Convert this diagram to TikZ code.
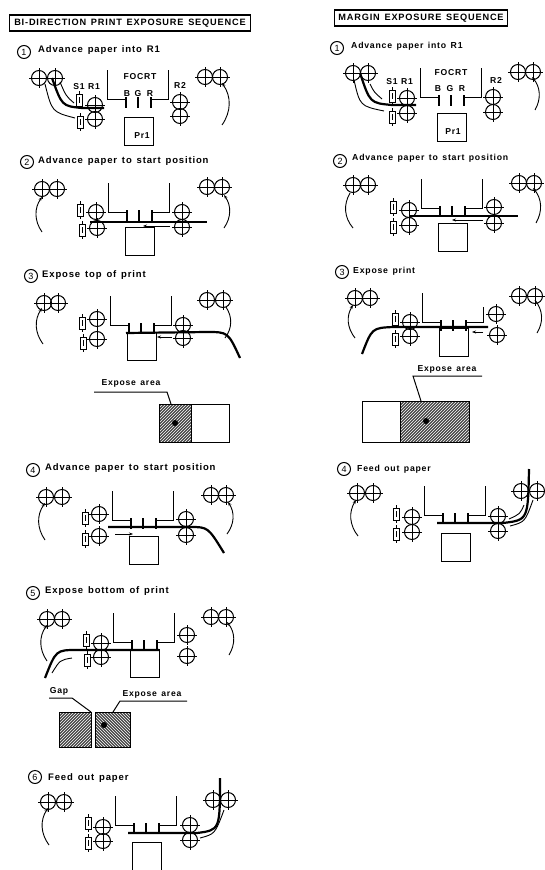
\documentclass[tikz,border=0pt]{standalone}
\usepackage{fontspec}
\setmainfont[LetterSpace=9,WordSpace=1.4]{Liberation Sans}
\usetikzlibrary{arrows.meta,patterns}
% print head: x, top of left wall, top of right wall, top of print box
\newcommand{\printunit}[4]{
  \draw[wall] (#1,#2)--(#1,#2+29)--(#1+18,#2+29);
  \draw[wall] (#1+61,#3)--(#1+61,#2+29)--(#1+44,#2+29);
  \draw[bar] (#1+19,#2+27)--(#1+19,#2+38);
  \draw[bar,line width=1.5pt] (#1+31,#2+27)--(#1+31,#2+38);
  \draw[bar] (#1+44,#2+27)--(#1+44,#2+38);
  \draw[wall] (#1+17,#4) rectangle (#1+46,#4+28);
}
\begin{document}
\begin{tikzpicture}[x=1pt,y=-1pt,
    wall/.style={line width=1pt},
    bar/.style={line width=2.8pt},
    paper/.style={line width=2.2pt},
    feed/.style={line width=0.9pt},
    tipfeed/.style={line width=0.9pt,-{Stealth[length=4pt]}},
    tipback/.style={line width=0.9pt,{Stealth[length=4pt]}-},
    nehatch/.style={draw,line width=1pt,preaction={fill=black!72},pattern=north east lines,pattern color=white},
    nwhatch/.style={draw,line width=1pt,preaction={fill=black!72},pattern=north west lines,pattern color=white},
    stepno/.style={draw,circle,line width=1pt,minimum size=13pt,inner sep=0pt,font=\fontsize{9}{9}\selectfont},
    steptxt/.style={anchor=west,inner sep=0pt,font=\fontsize{9.5}{10}\bfseries},
    steptxtr/.style={anchor=west,inner sep=0pt,font=\fontsize{8.7}{10}\bfseries},
    lbl/.style={inner sep=0pt,font=\fontsize{8.6}{9}\bfseries},
    heading/.style={draw,line width=1.1pt,inner sep=0pt,minimum height=16pt,font=\fontsize{9.2}{10}\bfseries},
    roller/.pic={
      \draw[wall] (0,0) circle[radius=7.5];
      \draw[line width=0.9pt] (-10,0)--(10,0) (0,-10)--(0,10);
    },
    sensor/.pic={
      \draw[wall,fill=white] (-3,-6) rectangle (3,6);
      \draw[line width=0.9pt] (0,-9)--(0,-6) (0,6)--(0,9) (0,-3)--(0,3);
    }
  ]
  \useasboundingbox (0,0) rectangle (544,870);
  % left column
  \node[heading,minimum width=241pt] (headL) at (130,23) {BI-DIRECTION PRINT EXPOSURE SEQUENCE};

  % L1
  \node[stepno] (nL1) at (24,52) {1};
  \node[steptxt] (tL1) at (38,50) {Advance paper into R1};
  \printunit{107}{70}{70}{117}
  \foreach \x/\y in {39/78,55/78,205/77,220/77,95/105,95/119,180/102,180/116} \pic at (\x,\y) {roller};
  \foreach \x/\y in {79/100,80/122} \pic at (\x,\y) {sensor};
  \draw[paper] (104,108)--(82,108) .. controls (62,106) .. (52,78);
  \draw[feed] (45,84) .. controls (52,112) .. (75,118);
  \draw[feed] (60,82) .. controls (66,96) .. (74,103);
  \draw[tipfeed] (222,125) to[bend right=35] (222,83);
  \node[lbl] (s1L) at (79,87) {S1};
  \node[lbl] (r1L) at (94,87) {R1};
  \node[lbl] (r2L) at (180,85) {R2};
  \node[lbl] (focL) at (140,77) {FOCRT};
  \node[lbl] (bL) at (127,94) {B};
  \node[lbl] (gL) at (138,94) {G};
  \node[lbl] (rL) at (150,94) {R};
  \node[lbl] (prL) at (142,136) {Pr1};

  % L2
  \node[stepno] (nL2) at (27,162) {2};
  \node[steptxt] (tL2) at (38,161) {Advance paper to start position};
  \printunit{108}{183}{183}{227}
  \foreach \x/\y in {42/189,57/189,207/187,222/187,96/212,97/228,182/212,182/227} \pic at (\x,\y) {roller};
  \foreach \x/\y in {80/210,82/230} \pic at (\x,\y) {sensor};
  \draw[paper] (90,222)--(207,222);
  \draw[tipfeed] (170,226)--(143,226);
  \draw[tipfeed] (42,232) to[bend left=35] (42,197);
  \draw[tipback] (224,195) to[bend left=35] (224,228);

  % L3
  \node[stepno] (nL3) at (31,276) {3};
  \node[steptxt] (tL3) at (42,275) {Expose top of print};
  \printunit{110}{296}{296}{332}
  \foreach \x/\y in {44/303,58/303,207/300,223/300,97/319,97/339,183/325,183/338} \pic at (\x,\y) {roller};
  \foreach \x/\y in {82/323,83/343} \pic at (\x,\y) {sensor};
  \draw[paper] (126,333)--(207,332) .. controls (228,332) .. (240,358);
  \draw[tipfeed] (172,337)--(157,337);
  \draw[tipfeed] (43,344) to[bend left=35] (42,308);
  \draw[feed] (226,307) to[bend left=35] (225,338);
  \node[lbl] (eaL3) at (131,383) {Expose area};
  \draw[wall] (94,392)--(167,392)--(171,404);
  \draw[nehatch] (159,404) rectangle (191,442);
  \fill (175,423) circle[radius=3];
  \draw[line width=1pt] (191,404) rectangle (229,442);

  % L4
  \node[stepno] (nL4) at (33,470) {4};
  \node[steptxt] (tL4) at (45,468) {Advance paper to start position};
  \printunit{112}{491}{491}{536}
  \foreach \x/\y in {46/497,62/497,211/495,226/495,99/514,99/536,186/519,186/535} \pic at (\x,\y) {roller};
  \foreach \x/\y in {85/518,85/539} \pic at (\x,\y) {sensor};
  \draw[paper] (108,527)--(190,527) .. controls (208,527) .. (224,553);
  \draw[tipfeed] (115,534)--(133,534);
  \draw[tipfeed] (45,540) to[bend left=35] (45,503);
  \draw[tipback] (228,502) to[bend left=35] (227,534);

  % L5
  \node[stepno] (nL5) at (33,593) {5};
  \node[steptxt] (tL5) at (45,591) {Expose bottom of print};
  \printunit{113}{613}{613}{649}
  \foreach \x/\y in {47/619,62/619,211/617,226/617,101/643,101/657,187/635,187/656} \pic at (\x,\y) {roller};
  \foreach \x/\y in {86/640,87/660} \pic at (\x,\y) {sensor};
  \draw[paper] (159,650)--(77,650) .. controls (56,650) .. (45,678);
  \draw[feed] (72,658) .. controls (60,660) .. (52,673);
  \draw[tipfeed] (47,661) to[bend left=35] (47,625);
  \draw[tipback] (227,622) to[bend left=35] (229,655);
  \node[lbl] (gapL5) at (59,691) {Gap};
  \node[lbl] (eaL5) at (152,694) {Expose area};
  \draw[wall] (49,698)--(72,698)--(91,712);
  \draw[wall] (187,701)--(120,701)--(113,712);
  \draw[nehatch] (59,712) rectangle (91,747);
  \draw[nwhatch] (95,712) rectangle (130,747);
  \fill (104,725) circle[radius=3];

  % L6
  \node[stepno] (nL6) at (35,777) {6};
  \node[steptxt] (tL6) at (48,778) {Feed out paper};
  \printunit{115}{796}{796}{842}
  \foreach \x/\y in {48/802,64/802,213/800,228/800,103/827,103/841,190/825,190/840} \pic at (\x,\y) {roller};
  \foreach \x/\y in {88/823,88/843} \pic at (\x,\y) {sensor};
  \draw[paper] (128,833)--(197,833) .. controls (220,830) .. (220,778);
  \draw[feed] (200,838) .. controls (215,834) .. (224,810);
  \draw[tipfeed] (49,845) to[bend left=35] (48,808);

  % right column
  \node[heading,minimum width=173pt] (headR) at (421,18) {MARGIN EXPOSURE SEQUENCE};

  % R1
  \node[stepno] (nR1) at (337,48) {1};
  \node[steptxtr] (tR1) at (351,46) {Advance paper into R1};
  \printunit{420}{68}{68}{113}
  \foreach \x/\y in {353/73,368/73,518/72,533/72,407/98,407/113,493/97,493/112} \pic at (\x,\y) {roller};
  \foreach \x/\y in {392/96,392/117} \pic at (\x,\y) {sensor};
  \draw[paper] (416,105)--(392,105) .. controls (370,103) .. (360,73);
  \draw[feed] (354,80) .. controls (360,106) .. (384,111);
  \draw[feed] (370,84) .. controls (374,92) .. (382,99);
  \draw[tipfeed] (535,110) to[bend right=35] (532,77);
  \node[lbl] (s1R) at (392,82) {S1};
  \node[lbl] (r1R) at (407,82) {R1};
  \node[lbl] (r2R) at (496,80) {R2};
  \node[lbl] (focR) at (451,73) {FOCRT};
  \node[lbl] (bR) at (438,89) {B};
  \node[lbl] (gR) at (450,89) {G};
  \node[lbl] (rR) at (462,89) {R};
  \node[lbl] (prR) at (453,132) {Pr1};

  % R2
  \node[stepno] (nR2) at (340,161) {2};
  \node[steptxtr] (tR2) at (352,158) {Advance paper to start position};
  \printunit{421}{179}{179}{223}
  \foreach \x/\y in {353/185,368/185,519/183,534/183,409/210,409/225,494/207,494/223} \pic at (\x,\y) {roller};
  \foreach \x/\y in {393/207,393/227} \pic at (\x,\y) {sensor};
  \draw[paper] (410,216)--(518,216);
  \draw[tipfeed] (483,220)--(452,220);
  \draw[feed] (353,228) to[bend left=35] (350,193);
  \draw[tipfeed] (536,223) to[bend right=35] (533,188);

  % R3
  \node[stepno] (nR3) at (342,272) {3};
  \node[steptxtr] (tR3) at (353,271) {Expose print};
  \printunit{422}{293}{307}{328}
  \foreach \x/\y in {355/298,370/298,519/296,535/296,410/322,410/336,496/314,497/335} \pic at (\x,\y) {roller};
  \foreach \x/\y in {395/319,395/339} \pic at (\x,\y) {sensor};
  \draw[paper] (488,327)--(393,327) .. controls (372,328) .. (362,354);
  \draw[tipfeed] (483,332)--(472,332);
  \draw[tipfeed] (355,338) to[bend left=35] (353,305);
  \draw[feed] (535,300) to[bend left=35] (537,333);
  \node[lbl] (eaR3) at (447,369) {Expose area};
  \draw[wall] (482,376)--(413,376)--(421,401);
  \draw[line width=1pt] (362,401) rectangle (400,442);
  \draw[nehatch] (400,401) rectangle (469,442);
  \fill (426,421) circle[radius=3];

  % R4
  \node[stepno] (nR4) at (344,469) {4};
  \node[steptxtr] (tR4) at (357,469) {Feed out paper};
  \printunit{424}{486}{486}{533}
  \foreach \x/\y in {357/493,373/493,521/491,537/491,412/517,412/532,498/516,498/531} \pic at (\x,\y) {roller};
  \foreach \x/\y in {396/514,396/534} \pic at (\x,\y) {sensor};
  \draw[paper] (437,523)--(503,523) .. controls (528,520) .. (529,469);
  \draw[feed] (509,519) .. controls (520,514) .. (524,505);
  \draw[feed] (510,526) .. controls (525,522) .. (533,500);
  \draw[tipfeed] (358,536) to[bend left=35] (356,500);
\end{tikzpicture}
\end{document}
